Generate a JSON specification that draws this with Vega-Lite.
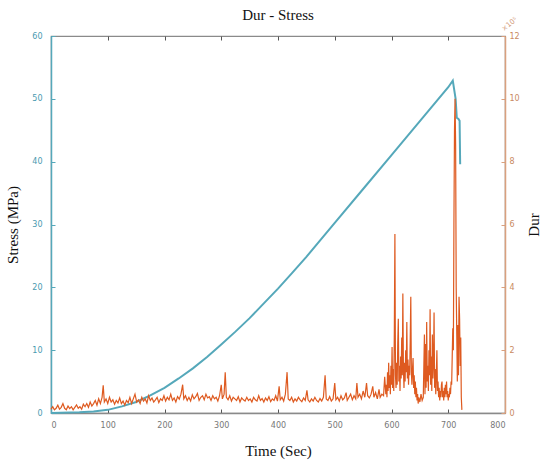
{
  "$schema": "https://vega.github.io/schema/vega-lite/v6.json",
  "width": 454,
  "height": 377,
  "autosize": {"type": "none"},
  "padding": {"left": 51, "top": 36, "right": 40, "bottom": 49},
  "background": "white",
  "title": {"text": "Dur - Stress", "font": "Liberation Serif", "fontSize": 15, "fontWeight": "normal", "color": "#111111", "offset": -7},
  "config": {
    "view": {"stroke": "#8a8a8a", "strokeWidth": 1.2},
    "axis": {"labelFont": "DejaVu Sans", "labelFontSize": 8, "titleFont": "Liberation Serif", "titleFontSize": 15, "titleFontWeight": "normal", "titleColor": "#111111", "grid": false, "domainWidth": 1.5}
  },
  "datasets": {
    "dur": [
      {"t":0,"dur":0.12},{"t":3,"dur":0.2},{"t":6,"dur":0.1},{"t":9,"dur":0.15},{"t":12,"dur":0.25},{"t":15,"dur":0.12},{"t":18,"dur":0.18},{"t":21,"dur":0.3},{"t":24,"dur":0.15},{"t":27,"dur":0.1},
      {"t":30,"dur":0.22},{"t":33,"dur":0.14},{"t":36,"dur":0.2},{"t":39,"dur":0.1},{"t":42,"dur":0.18},{"t":45,"dur":0.26},{"t":48,"dur":0.15},{"t":51,"dur":0.2},{"t":54,"dur":0.12},{"t":57,"dur":0.28},
      {"t":60,"dur":0.2},{"t":63,"dur":0.3},{"t":66,"dur":0.18},{"t":69,"dur":0.35},{"t":72,"dur":0.22},{"t":75,"dur":0.3},{"t":78,"dur":0.4},{"t":81,"dur":0.25},{"t":84,"dur":0.45},{"t":87,"dur":0.3},
      {"t":90,"dur":0.5},{"t":92,"dur":0.88},{"t":94,"dur":0.35},{"t":97,"dur":0.45},{"t":100,"dur":0.3},{"t":103,"dur":0.5},{"t":106,"dur":0.35},{"t":109,"dur":0.42},{"t":112,"dur":0.28},{"t":115,"dur":0.4},
      {"t":118,"dur":0.32},{"t":121,"dur":0.48},{"t":124,"dur":0.3},{"t":127,"dur":0.38},{"t":130,"dur":0.25},{"t":133,"dur":0.4},{"t":136,"dur":0.33},{"t":139,"dur":0.5},{"t":142,"dur":0.3},{"t":145,"dur":0.45},
      {"t":148,"dur":0.6},{"t":151,"dur":0.35},{"t":154,"dur":0.42},{"t":157,"dur":0.3},{"t":160,"dur":0.5},{"t":163,"dur":0.38},{"t":166,"dur":0.45},{"t":169,"dur":0.32},{"t":172,"dur":0.55},{"t":175,"dur":0.4},
      {"t":178,"dur":0.48},{"t":181,"dur":0.35},{"t":184,"dur":0.42},{"t":187,"dur":0.5},{"t":190,"dur":0.33},{"t":193,"dur":0.45},{"t":196,"dur":0.4},{"t":199,"dur":0.55},{"t":202,"dur":0.38},{"t":205,"dur":0.5},
      {"t":208,"dur":0.42},{"t":211,"dur":0.6},{"t":214,"dur":0.4},{"t":217,"dur":0.48},{"t":220,"dur":0.35},{"t":223,"dur":0.52},{"t":226,"dur":0.44},{"t":229,"dur":0.6},{"t":232,"dur":0.9},{"t":234,"dur":0.45},
      {"t":237,"dur":0.55},{"t":240,"dur":0.4},{"t":243,"dur":0.5},{"t":246,"dur":0.38},{"t":249,"dur":0.58},{"t":252,"dur":0.45},{"t":255,"dur":0.52},{"t":258,"dur":0.62},{"t":261,"dur":0.4},{"t":264,"dur":0.5},
      {"t":267,"dur":0.55},{"t":270,"dur":0.42},{"t":273,"dur":0.6},{"t":276,"dur":0.48},{"t":279,"dur":0.52},{"t":282,"dur":0.4},{"t":285,"dur":0.55},{"t":288,"dur":0.45},{"t":291,"dur":0.5},{"t":294,"dur":0.38},
      {"t":297,"dur":0.55},{"t":300,"dur":0.9},{"t":302,"dur":0.45},{"t":305,"dur":0.6},{"t":307,"dur":1.3},{"t":309,"dur":0.5},{"t":312,"dur":0.42},{"t":315,"dur":0.55},{"t":318,"dur":0.38},{"t":321,"dur":0.5},
      {"t":324,"dur":0.45},{"t":327,"dur":0.4},{"t":330,"dur":0.52},{"t":333,"dur":0.35},{"t":336,"dur":0.48},{"t":339,"dur":0.42},{"t":342,"dur":0.38},{"t":345,"dur":0.5},{"t":348,"dur":0.4},{"t":351,"dur":0.45},
      {"t":354,"dur":0.35},{"t":357,"dur":0.5},{"t":360,"dur":0.42},{"t":363,"dur":0.38},{"t":366,"dur":0.55},{"t":369,"dur":0.4},{"t":372,"dur":0.46},{"t":375,"dur":0.35},{"t":378,"dur":0.48},{"t":381,"dur":0.4},
      {"t":384,"dur":0.52},{"t":387,"dur":0.36},{"t":390,"dur":0.45},{"t":393,"dur":0.4},{"t":396,"dur":0.55},{"t":399,"dur":0.38},{"t":402,"dur":0.85},{"t":404,"dur":0.42},{"t":407,"dur":0.5},{"t":410,"dur":0.38},
      {"t":413,"dur":0.6},{"t":416,"dur":1.3},{"t":418,"dur":0.45},{"t":421,"dur":0.4},{"t":424,"dur":0.5},{"t":427,"dur":0.35},{"t":430,"dur":0.45},{"t":433,"dur":0.38},{"t":436,"dur":0.5},{"t":439,"dur":0.42},
      {"t":442,"dur":0.36},{"t":445,"dur":0.48},{"t":448,"dur":0.4},{"t":451,"dur":0.72},{"t":453,"dur":0.42},{"t":456,"dur":0.35},{"t":459,"dur":0.45},{"t":462,"dur":0.38},{"t":465,"dur":0.5},{"t":468,"dur":0.4},
      {"t":471,"dur":0.35},{"t":474,"dur":0.46},{"t":477,"dur":0.38},{"t":480,"dur":0.5},{"t":483,"dur":1.2},{"t":485,"dur":0.45},{"t":488,"dur":0.4},{"t":491,"dur":0.52},{"t":494,"dur":0.38},{"t":497,"dur":0.45},
      {"t":500,"dur":0.95},{"t":502,"dur":0.42},{"t":505,"dur":0.5},{"t":508,"dur":0.38},{"t":511,"dur":0.55},{"t":514,"dur":0.42},{"t":517,"dur":0.48},{"t":520,"dur":0.65},{"t":522,"dur":0.4},{"t":525,"dur":0.5},
      {"t":528,"dur":0.6},{"t":531,"dur":0.42},{"t":534,"dur":0.55},{"t":537,"dur":0.45},{"t":539,"dur":0.95},{"t":541,"dur":0.5},{"t":544,"dur":0.6},{"t":547,"dur":0.45},{"t":550,"dur":0.7},{"t":553,"dur":0.5},
      {"t":556,"dur":0.95},{"t":558,"dur":0.55},{"t":561,"dur":0.48},{"t":564,"dur":0.6},{"t":567,"dur":0.85},{"t":569,"dur":0.5},{"t":572,"dur":0.65},{"t":575,"dur":0.45},{"t":578,"dur":0.75},{"t":580,"dur":0.5},
      {"t":583,"dur":0.6},{"t":586,"dur":0.55},{"t":588,"dur":1.15},{"t":590,"dur":0.6},
      {"t":591,"dur":0.9},{"t":592,"dur":0.5},{"t":593,"dur":1.3},{"t":594,"dur":0.7},{"t":595,"dur":1.6},{"t":596,"dur":0.8},{"t":597,"dur":1.2},{"t":598,"dur":0.6},{"t":599,"dur":1.5},{"t":600,"dur":0.9},
      {"t":601,"dur":2.1},{"t":602,"dur":0.8},{"t":603,"dur":1.4},{"t":604,"dur":0.7},{"t":605,"dur":2.6},{"t":606,"dur":5.7},{"t":607,"dur":1.2},{"t":608,"dur":0.8},{"t":609,"dur":1.6},{"t":610,"dur":0.9},
      {"t":611,"dur":2.2},{"t":612,"dur":3.0},{"t":613,"dur":1.0},{"t":614,"dur":1.5},{"t":615,"dur":0.7},{"t":616,"dur":1.8},{"t":617,"dur":1.1},{"t":618,"dur":2.4},{"t":619,"dur":1.2},{"t":620,"dur":3.8},
      {"t":621,"dur":1.4},{"t":622,"dur":0.8},{"t":623,"dur":1.6},{"t":624,"dur":1.0},{"t":625,"dur":2.0},{"t":626,"dur":1.3},{"t":627,"dur":2.9},{"t":628,"dur":1.1},{"t":629,"dur":1.7},{"t":630,"dur":0.9},
      {"t":631,"dur":1.5},{"t":632,"dur":1.2},{"t":633,"dur":2.3},{"t":634,"dur":3.7},{"t":635,"dur":1.3},{"t":636,"dur":0.9},{"t":637,"dur":1.4},{"t":638,"dur":1.75},{"t":639,"dur":0.8},{"t":640,"dur":1.2},
      {"t":641,"dur":0.6},{"t":642,"dur":1.0},{"t":643,"dur":0.5},{"t":644,"dur":0.8},{"t":645,"dur":0.4},{"t":646,"dur":0.6},{"t":647,"dur":0.3},{"t":648,"dur":0.5},{"t":650,"dur":0.35},{"t":652,"dur":0.6},
      {"t":654,"dur":0.4},{"t":656,"dur":0.5},{"t":658,"dur":2.5},{"t":659,"dur":0.6},{"t":660,"dur":2.2},{"t":661,"dur":0.8},{"t":662,"dur":2.9},{"t":663,"dur":1.0},{"t":664,"dur":1.5},{"t":665,"dur":0.7},
      {"t":666,"dur":2.0},{"t":667,"dur":1.2},{"t":668,"dur":3.3},{"t":669,"dur":0.9},{"t":670,"dur":1.8},{"t":671,"dur":0.7},{"t":672,"dur":2.5},{"t":673,"dur":1.1},{"t":674,"dur":1.6},{"t":675,"dur":3.2},
      {"t":676,"dur":0.8},{"t":677,"dur":1.4},{"t":678,"dur":0.6},{"t":679,"dur":1.2},{"t":680,"dur":2.0},{"t":681,"dur":0.7},{"t":682,"dur":1.0},{"t":683,"dur":0.5},{"t":684,"dur":0.8},{"t":685,"dur":0.4},
      {"t":686,"dur":0.7},{"t":687,"dur":0.5},{"t":688,"dur":0.9},{"t":689,"dur":1.0},{"t":690,"dur":0.5},{"t":691,"dur":0.7},{"t":692,"dur":0.4},{"t":693,"dur":0.8},{"t":694,"dur":0.5},{"t":695,"dur":0.9},
      {"t":696,"dur":0.6},{"t":697,"dur":1.0},{"t":698,"dur":0.5},{"t":699,"dur":0.7},{"t":700,"dur":0.4},{"t":701,"dur":0.6},{"t":702,"dur":0.5},{"t":703,"dur":0.8},{"t":704,"dur":0.6},{"t":705,"dur":1.0},
      {"t":706,"dur":0.9},{"t":707,"dur":1.8},{"t":708,"dur":2.7},{"t":709,"dur":2.0},{"t":710,"dur":6.0},{"t":711,"dur":9.0},{"t":712,"dur":10.0},{"t":713,"dur":8.5},{"t":714,"dur":4.0},{"t":715,"dur":2.5},
      {"t":716,"dur":1.0},{"t":717,"dur":2.8},{"t":718,"dur":1.2},{"t":719,"dur":3.7},{"t":720,"dur":3.0},{"t":721,"dur":1.5},{"t":722,"dur":2.4},{"t":723,"dur":0.5},{"t":724,"dur":0.1}
    ],
    "stress": [
      {"t":0,"stress":0},{"t":50,"stress":0.1},{"t":75,"stress":0.25},{"t":100,"stress":0.5},{"t":125,"stress":1.05},{"t":150,"stress":1.75},{"t":175,"stress":2.8},{"t":200,"stress":4.0},{"t":225,"stress":5.5},{"t":250,"stress":7.1},
      {"t":275,"stress":8.9},{"t":300,"stress":10.9},{"t":325,"stress":12.95},{"t":350,"stress":15.1},{"t":375,"stress":17.45},{"t":400,"stress":19.8},{"t":425,"stress":22.3},{"t":450,"stress":24.85},{"t":500,"stress":30.25},{"t":550,"stress":35.65},
      {"t":600,"stress":41.05},{"t":650,"stress":46.45},{"t":700,"stress":51.85},{"t":708,"stress":52.9},{"t":713,"stress":50.0},{"t":715,"stress":47.0},{"t":718,"stress":46.8},{"t":720,"stress":46.5},{"t":721,"stress":39.6}
    ],
    "exp": [{"t": 800, "dur": 12, "label": "×10⁵"}]
  },
  "layer": [
    {
      "data": {"name": "stress"},
      "mark": {"type": "line", "color": "#55a8ba", "strokeWidth": 2},
      "encoding": {
        "x": {"field": "t", "type": "quantitative", "scale": {"domain": [0, 800], "nice": false},
              "axis": {"orient": "bottom", "title": "Time (Sec)", "values": [0,100,200,300,400,500,600,700,800], "domainColor": "#8a8a8a", "tickColor": "#555555", "tickSize": -4, "labelPadding": 12, "labelColor": "#777777", "titlePadding": 14}},
        "y": {"field": "stress", "type": "quantitative", "scale": {"domain": [0, 60], "nice": false},
              "axis": {"orient": "left", "title": "Stress (MPa)", "values": [0,10,20,30,40,50,60], "domainColor": "#55a8ba", "tickColor": "#55a8ba", "labelColor": "#4a9ab0", "tickSize": -4, "labelPadding": 13, "titlePadding": 11}}
      }
    },
    {
      "layer": [
        {
          "data": {"name": "dur"},
          "mark": {"type": "line", "color": "#de5a20", "strokeWidth": 1.2},
          "encoding": {
            "x": {"field": "t", "type": "quantitative", "scale": {"domain": [0, 800], "nice": false},
                  "axis": {"orient": "top", "title": null, "labels": false, "domain": false, "values": [0,100,200,300,400,500,600,700,800], "tickColor": "#555555", "tickSize": -4}},
            "y": {"field": "dur", "type": "quantitative", "scale": {"domain": [0, 12], "nice": false},
                  "axis": {"orient": "right", "title": "Dur", "titleAngle": 270, "values": [0,2,4,6,8,10,12], "domainColor": "#d9a07e", "tickColor": "#d9a07e", "labelColor": "#c98a62", "tickSize": -4, "labelPadding": 8, "titlePadding": 22}}
          }
        },
        {
          "data": {"name": "exp"},
          "mark": {"type": "text", "color": "#d29a78", "fontSize": 7, "font": "DejaVu Sans", "angle": -40, "dx": 11, "dy": -6},
          "encoding": {
            "x": {"field": "t", "type": "quantitative"},
            "y": {"field": "dur", "type": "quantitative"},
            "text": {"field": "label"}
          }
        }
      ]
    }
  ],
  "resolve": {"scale": {"y": "independent"}, "axis": {"x": "independent"}}
}
